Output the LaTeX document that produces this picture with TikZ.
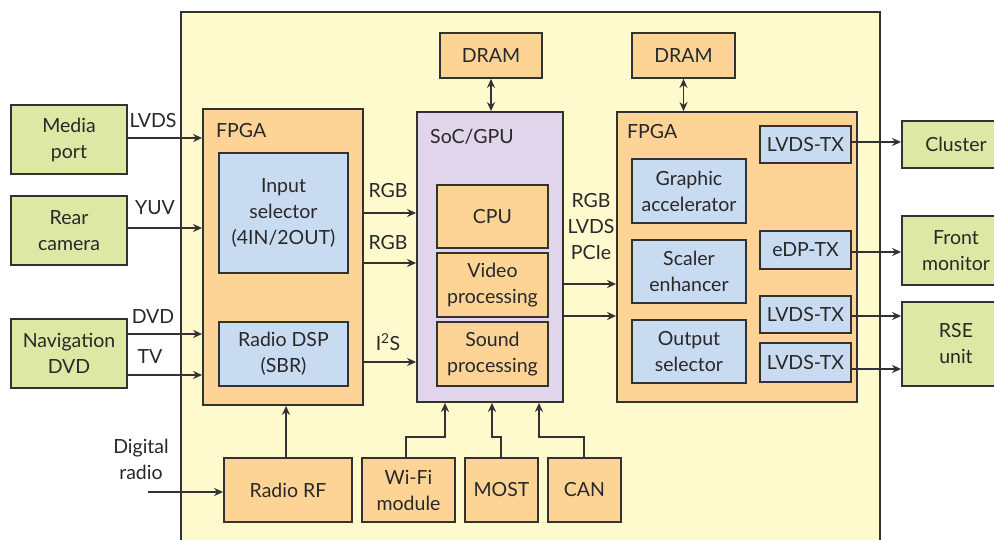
\documentclass[tikz,border=0pt]{standalone}
\usepackage{fontspec}
\setmainfont{Lato}
\usetikzlibrary{arrows.meta}
\definecolor{bgY}{RGB}{255,249,206}
\definecolor{grn}{RGB}{221,232,165}
\definecolor{org}{RGB}{253,212,150}
\definecolor{blu}{RGB}{200,219,241}
\definecolor{pur}{RGB}{225,213,235}
\definecolor{ln}{RGB}{50,50,50}
\definecolor{tx}{RGB}{40,40,40}
\newcommand\fs{\fontsize{19.5}{26}\selectfont}
\tikzset{
  box/.style={draw=ln, line width=1.8pt, inner sep=0pt, align=center, font=\fs, text=tx},
  gbox/.style={box, fill=grn},
  obox/.style={box, fill=org},
  bbox/.style={box, fill=blu},
  pbox/.style={box, fill=pur},
  lbl/.style={inner sep=0pt, align=center, font=\fs, text=tx},
  arr/.style={draw=ln, line width=1.5pt, -{Stealth[length=9pt,width=8pt]}},
  darr/.style={draw=ln, line width=1.5pt, {Stealth[length=9pt,width=8pt]}-{Stealth[length=9pt,width=8pt]}},
}
\begin{document}
\begin{tikzpicture}[x=1pt,y=-1pt]
\useasboundingbox (0,0) rectangle (994,540);
\clip (0,0) rectangle (994,540);
\fill[white] (0,0) rectangle (994,540);
% background board
\draw[draw=ln, line width=1.8pt, fill=bgY] (181,12) rectangle (880,570);

% left inputs
\node[gbox, minimum width=116pt, minimum height=69pt] (media) at (69,139.5) {Media\\port};
\node[gbox, minimum width=116pt, minimum height=69pt] (rear) at (69,230.5) {Rear\\camera};
\node[gbox, minimum width=116pt, minimum height=69pt] (nav) at (69,353.5) {Navigation\\DVD};

% FPGA 1
\node[obox, minimum width=160pt, minimum height=296pt] (fpga1) at (283,257) {};
\node[lbl, anchor=west] (fpga1l) at (216,131) {FPGA};
\node[bbox, minimum width=129pt, minimum height=120pt] (insel) at (283.5,213) {Input\\selector\\(4IN/2OUT)};
\node[bbox, minimum width=129pt, minimum height=64pt] (rdsp) at (283.5,354) {Radio DSP\\(SBR)};

% SoC
\node[pbox, minimum width=146pt, minimum height=290pt] (soc) at (490,257) {};
\node[lbl, anchor=west] (socl) at (430,137) {SoC/GPU};
\node[obox, minimum width=111pt, minimum height=63pt] (cpu) at (492.5,216.5) {CPU};
\node[obox, minimum width=111pt, minimum height=64pt] (vid) at (492.5,285) {Video\\processing};
\node[obox, minimum width=111pt, minimum height=64pt] (snd) at (492.5,354) {Sound\\processing};

% FPGA 2
\node[obox, minimum width=240pt, minimum height=290pt] (fpga2) at (737,257) {};
\node[lbl, anchor=west] (fpga2l) at (627,132) {FPGA};
\node[bbox, minimum width=91pt, minimum height=37pt] (ltx1) at (805.5,144.5) {LVDS-TX};
\node[bbox, minimum width=114pt, minimum height=64pt] (gacc) at (689,191) {Graphic\\accelerator};
\node[bbox, minimum width=114pt, minimum height=63pt] (scal) at (689,271.5) {Scaler\\enhancer};
\node[bbox, minimum width=114pt, minimum height=63pt] (osel) at (689,351.5) {Output\\selector};
\node[bbox, minimum width=91pt, minimum height=38pt] (edp) at (805.5,250) {eDP-TX};
\node[bbox, minimum width=91pt, minimum height=37pt] (ltx2) at (805.5,314.5) {LVDS-TX};
\node[bbox, minimum width=91pt, minimum height=39pt] (ltx3) at (805.5,362.5) {LVDS-TX};

% DRAMs
\node[obox, minimum width=102pt, minimum height=45pt] (dram1) at (491,55.5) {DRAM};
\node[obox, minimum width=103pt, minimum height=45pt] (dram2) at (683.5,55.5) {DRAM};

% bottom row
\node[obox, minimum width=128pt, minimum height=64pt] (rf) at (288,490) {Radio RF};
\node[obox, minimum width=93pt, minimum height=64pt] (wifi) at (408.5,490) {Wi-Fi\\module};
\node[obox, minimum width=73pt, minimum height=64pt] (most) at (501.5,490) {MOST};
\node[obox, minimum width=73pt, minimum height=64pt] (can) at (584.5,490) {CAN};

% right outputs
\node[gbox, minimum width=108pt, minimum height=47pt] (cluster) at (956,144.5) {Cluster};
\node[gbox, minimum width=108pt, minimum height=69pt] (front) at (956,250.5) {Front\\monitor};
\node[gbox, minimum width=108pt, minimum height=84pt] (rse) at (956,344) {RSE\\unit};

% input arrows
\draw[arr] (media.east |- 0,138) -- (fpga1.west |- 0,138);
\draw[arr] (rear.east |- 0,228) -- (fpga1.west |- 0,228);
\draw[arr] (nav.east |- 0,334) -- (fpga1.west |- 0,334);
\draw[arr] (nav.east |- 0,375) -- (fpga1.west |- 0,375);
\node[lbl] (l_lvds) at (153,121) {LVDS};
\node[lbl] (l_yuv) at (155,208) {YUV};
\node[lbl] (l_dvd) at (153,317) {DVD};
\node[lbl] (l_tv) at (150,357) {TV};

% FPGA1 -> SoC
\draw[arr] (fpga1.east |- 0,213) -- (soc.west |- 0,213);
\draw[arr] (fpga1.east |- 0,263) -- (soc.west |- 0,263);
\draw[arr] (fpga1.east |- 0,362) -- (soc.west |- 0,362);
\node[lbl] (l_rgb1) at (388,191) {RGB};
\node[lbl] (l_rgb2) at (388,243) {RGB};
\node[lbl] (l_i2s) at (388,342) {I\textsuperscript{2}S};

% SoC -> FPGA2
\draw[arr] (soc.east |- 0,284) -- (fpga2.west |- 0,284);
\draw[arr] (soc.east |- 0,316) -- (fpga2.west |- 0,316);
\node[lbl] (l_rlp) at (591,227) {RGB\\LVDS\\PCIe};

% DRAM links
\draw[darr] (dram1.south) -- (dram1.south |- soc.north);
\draw[darr] (dram2.south) -- (dram2.south |- fpga2.north);

% outputs
\draw[arr] (ltx1.east |- 0,142) -- (cluster.west |- 0,142);
\draw[arr] (edp.east |- 0,252) -- (front.west |- 0,252);
\draw[arr] (ltx2.east |- 0,316) -- (rse.west |- 0,316);
\draw[arr] (ltx3.east |- 0,369) -- (rse.west |- 0,369);

% bottom links
\draw[arr] (rf.north -| 286,0) -- (fpga1.south -| 286,0);
\draw[arr] (wifi.north -| 406,0) |- (445,437) -- (soc.south -| 445,0);
\draw[arr] (most.north -| 501,0) |- (492,437) -- (soc.south -| 492,0);
\draw[arr] (can.north -| 584,0) |- (539,437) -- (soc.south -| 539,0);

% digital radio
\node[lbl] (l_dr) at (141,459) {Digital\\radio};
\coordinate (drin) at (148,492);
\draw[arr] (drin) -- (rf.west |- drin);
\end{tikzpicture}
\end{document}
